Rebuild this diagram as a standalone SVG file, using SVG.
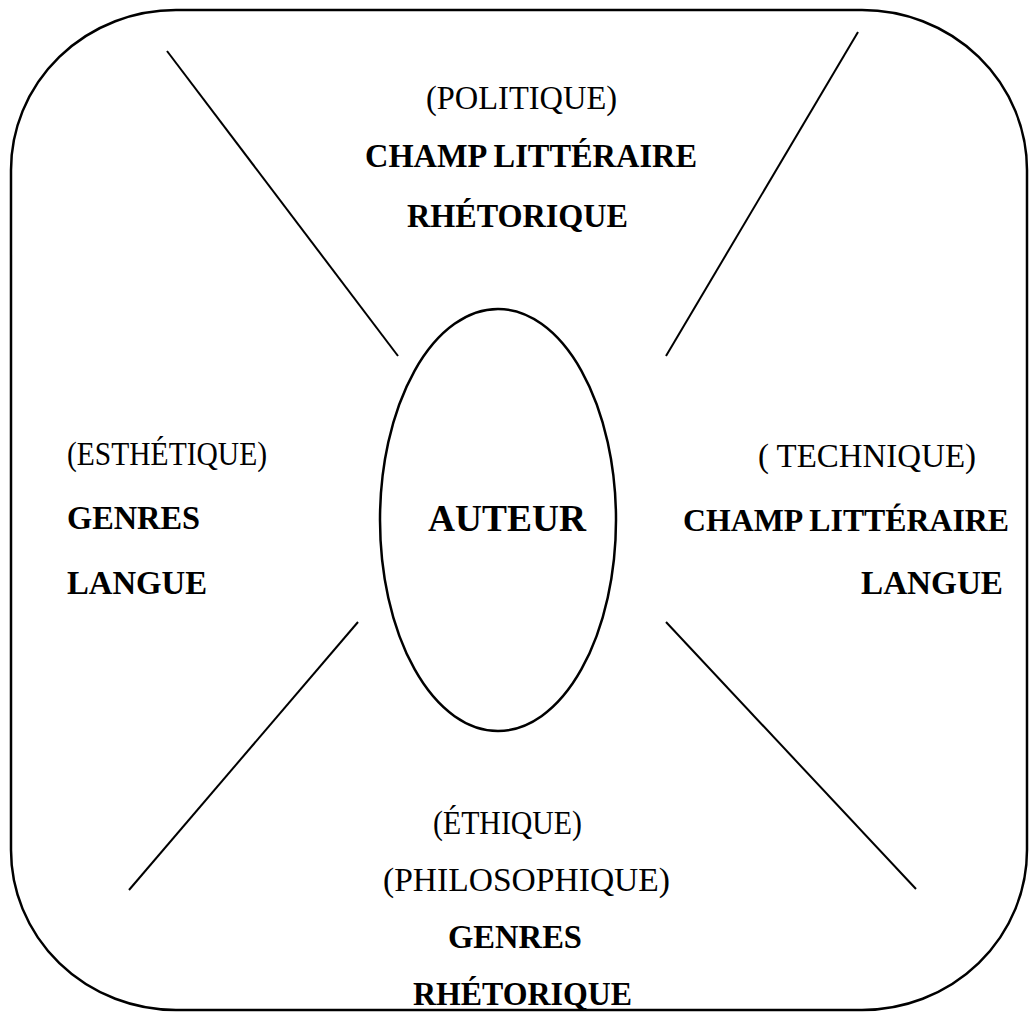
<svg xmlns="http://www.w3.org/2000/svg" width="1029" height="1015" viewBox="0 0 1029 1015">
  <style>
    .frame { fill: none; stroke: #000; stroke-width: 2.5; }
    .ray { stroke: #000; stroke-width: 2; fill: none; }
    .lbl { font-family: "Liberation Serif", "Times New Roman", serif; font-size: 33px; fill: #000; }
    .key { font-family: "Liberation Serif", "Times New Roman", serif; font-size: 34px; font-weight: bold; fill: #000; }
    .key.tight { font-size: 32px; }
    .core { font-family: "Liberation Serif", "Times New Roman", serif; font-size: 38px; font-weight: bold; fill: #000; }
  </style>
  <rect fill="#fff" width="1029" height="1015"/>

  <!-- outer rounded frame -->
  <rect id="frame" class="frame" x="11" y="10" width="1016" height="1000" rx="165" ry="160"/>

  <!-- diagonal rays around the centre -->
  <g id="connectors">
    <line class="ray" x1="167" y1="51" x2="398" y2="356"/>
    <line class="ray" x1="858" y1="32" x2="666" y2="356"/>
    <line class="ray" x1="358" y1="622" x2="129" y2="890"/>
    <line class="ray" x1="666" y1="622" x2="916" y2="889"/>
  </g>

  <!-- centre -->
  <g id="auteur">
    <ellipse class="frame" cx="498" cy="520" rx="118" ry="211"/>
    <text class="core" x="428" y="531" textLength="158" lengthAdjust="spacingAndGlyphs">AUTEUR</text>
  </g>

  <!-- top quadrant -->
  <g id="politique">
    <text class="lbl" x="426" y="109" textLength="191" lengthAdjust="spacingAndGlyphs">(POLITIQUE)</text>
    <text class="key" x="365" y="167" textLength="332" lengthAdjust="spacingAndGlyphs">CHAMP LITTÉRAIRE</text>
    <text class="key" x="407" y="227" textLength="221" lengthAdjust="spacingAndGlyphs">RHÉTORIQUE</text>
  </g>

  <!-- left quadrant -->
  <g id="esthetique">
    <text class="lbl" x="67" y="465" textLength="200" lengthAdjust="spacingAndGlyphs">(ESTHÉTIQUE)</text>
    <text class="key" x="67" y="529" textLength="133" lengthAdjust="spacingAndGlyphs">GENRES</text>
    <text class="key" x="67" y="594" textLength="140" lengthAdjust="spacingAndGlyphs">LANGUE</text>
  </g>

  <!-- right quadrant -->
  <g id="technique">
    <text class="lbl" x="758" y="467" textLength="218" lengthAdjust="spacingAndGlyphs">( TECHNIQUE)</text>
    <text class="key tight" x="683" y="531" textLength="326" lengthAdjust="spacingAndGlyphs">CHAMP LITTÉRAIRE</text>
    <text class="key" x="861" y="594" textLength="142" lengthAdjust="spacingAndGlyphs">LANGUE</text>
  </g>

  <!-- bottom quadrant -->
  <g id="ethique">
    <text class="lbl" x="433" y="834" textLength="149" lengthAdjust="spacingAndGlyphs">(ÉTHIQUE)</text>
    <text class="lbl" x="383" y="891" textLength="287" lengthAdjust="spacingAndGlyphs">(PHILOSOPHIQUE)</text>
    <text class="key" x="448" y="948" textLength="134" lengthAdjust="spacingAndGlyphs">GENRES</text>
    <text class="key" x="413" y="1005" textLength="219" lengthAdjust="spacingAndGlyphs">RHÉTORIQUE</text>
  </g>
</svg>
